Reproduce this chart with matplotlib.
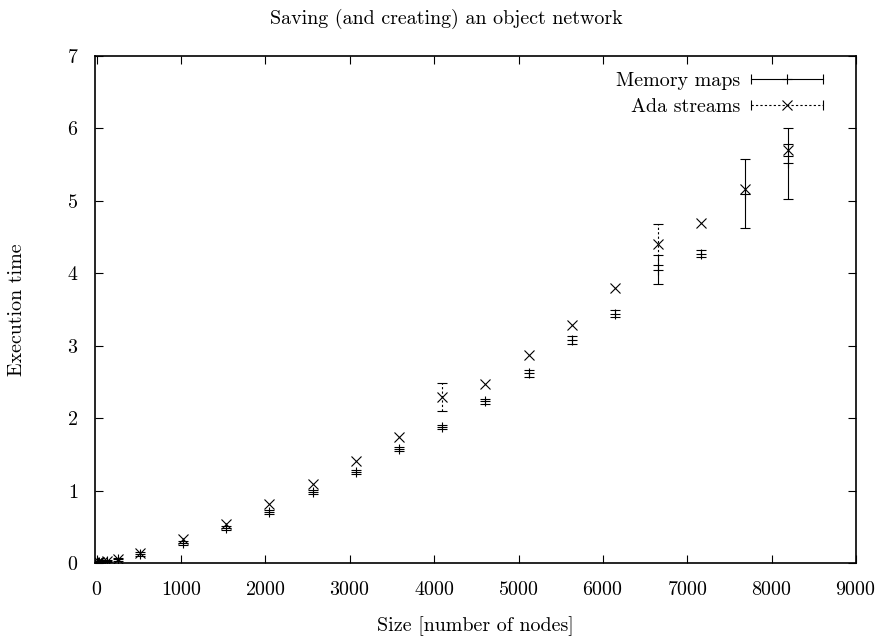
import matplotlib
matplotlib.use("Agg")
import matplotlib.pyplot as plt
from matplotlib.legend_handler import HandlerBase
from matplotlib.lines import Line2D
import numpy as np

nan = np.nan

# sizes (number of nodes)
sizes = [1, 2, 4, 8, 16, 32, 64, 128, 256, 512, 1024, 1536, 2048, 2560,
         3072, 3584, 4096, 4608, 5120, 5632, 6144, 6656, 7168, 7680, 8192]

# memory maps: mean time and error
mem_time = [0.001, 0.001, 0.002, 0.003, 0.005, 0.008, 0.015, 0.025, 0.05, 0.12,
            0.28, 0.48, 0.70, 0.98, 1.26, 1.57, 1.88, 2.23, 2.62, 3.08,
            3.44, 4.05, 4.27, 5.10, 5.52]
mem_err = [0.005, 0.005, 0.005, 0.005, 0.005, 0.005, 0.005, 0.01, 0.02, 0.03,
           0.03, 0.03, 0.03, 0.03, 0.03, 0.03, 0.03, 0.03, 0.05, 0.05,
           0.05, 0.20, 0.05, 0.475, 0.49]

# ada streams: mean time and error (nan = bar too small to see)
ada_time = [0.001, 0.002, 0.003, 0.004, 0.006, 0.01, 0.018, 0.03, 0.06, 0.14,
            0.33, 0.54, 0.82, 1.09, 1.415, 1.74, 2.29, 2.47, 2.87, 3.29,
            3.79, 4.40, 4.69, 5.16, 5.70]
ada_err = [nan, nan, nan, nan, nan, nan, nan, nan, nan, nan,
           nan, nan, nan, nan, nan, nan, 0.19, nan, nan, nan,
           nan, 0.28, nan, nan, 0.08]

plt.rcParams['font.family'] = ['cmr10', 'DejaVu Serif']
plt.rcParams['axes.formatter.use_mathtext'] = True
FS = 14.4
plt.rcParams['font.size'] = FS


class CapLine(HandlerBase):
    # gnuplot style key sample: horizontal bar with end caps and a point
    def __init__(self, ls, marker):
        super().__init__()
        self.ls = ls
        self.marker = marker

    def create_artists(self, legend, orig_handle, xdescent, ydescent,
                       width, height, fontsize, trans):
        y = height / 2 - ydescent
        x0, x1 = -xdescent, width - xdescent
        line = Line2D([x0, x1], [y, y], color='k', lw=0.8, ls=self.ls)
        caps = Line2D([x0, x1], [y, y], color='k', ls='none', marker='|',
                      ms=7, mew=0.8)
        mid = Line2D([(x0 + x1) / 2], [y], color='k', ls='none',
                     marker=self.marker, ms=7, mew=0.8)
        for a in (line, caps, mid):
            a.set_transform(trans)
        return [line, caps, mid]


fig = plt.figure(figsize=(8.93, 6.43), dpi=100)
ax = fig.add_axes([95 / 893, 80 / 643, 761 / 893, 507 / 643])

h1 = ax.errorbar(sizes, mem_time, yerr=mem_err, fmt='+', color='k', ms=7,
                 mew=0.8, elinewidth=0.8, capsize=3.6, capthick=0.8)
h2 = ax.errorbar(sizes, ada_time, yerr=ada_err, fmt='x', color='k', ms=7,
                 mew=0.8, elinewidth=0.8, capsize=3.6, capthick=0.8)
h2[2][0].set_linestyle((0, (2, 2)))

ax.set_xlim(-20, 9000)
ax.set_ylim(0, 7)
ax.set_xticks(np.arange(0, 9001, 1000))
ax.set_yticks(np.arange(0, 8, 1))
ax.tick_params(direction='in', length=6, width=0.8, top=True, right=True,
               labelsize=FS)
ax.tick_params(axis='x', pad=13)
ax.tick_params(axis='y', pad=12)
for s in ax.spines.values():
    s.set_linewidth(1.2)

fig.suptitle('Saving (and creating) an object network', fontsize=FS,
             x=0.5, y=1 - 19 / 643, va='center')
ax.set_xlabel('Size [number of nodes]', fontsize=FS, labelpad=12)
ax.set_ylabel('Execution time', fontsize=FS, labelpad=29)

ax.legend([h1, h2], ['Memory maps', 'Ada streams'], loc='upper right',
          bbox_to_anchor=(0.9566, 0.968), borderaxespad=0, borderpad=0,
          frameon=False, markerfirst=False, handlelength=3.6,
          handletextpad=0.55, labelspacing=0.38,
          handler_map={h1: CapLine('-', '+'), h2: CapLine((0, (2, 2)), 'x')})

fig.savefig('out.png', dpi=100)
